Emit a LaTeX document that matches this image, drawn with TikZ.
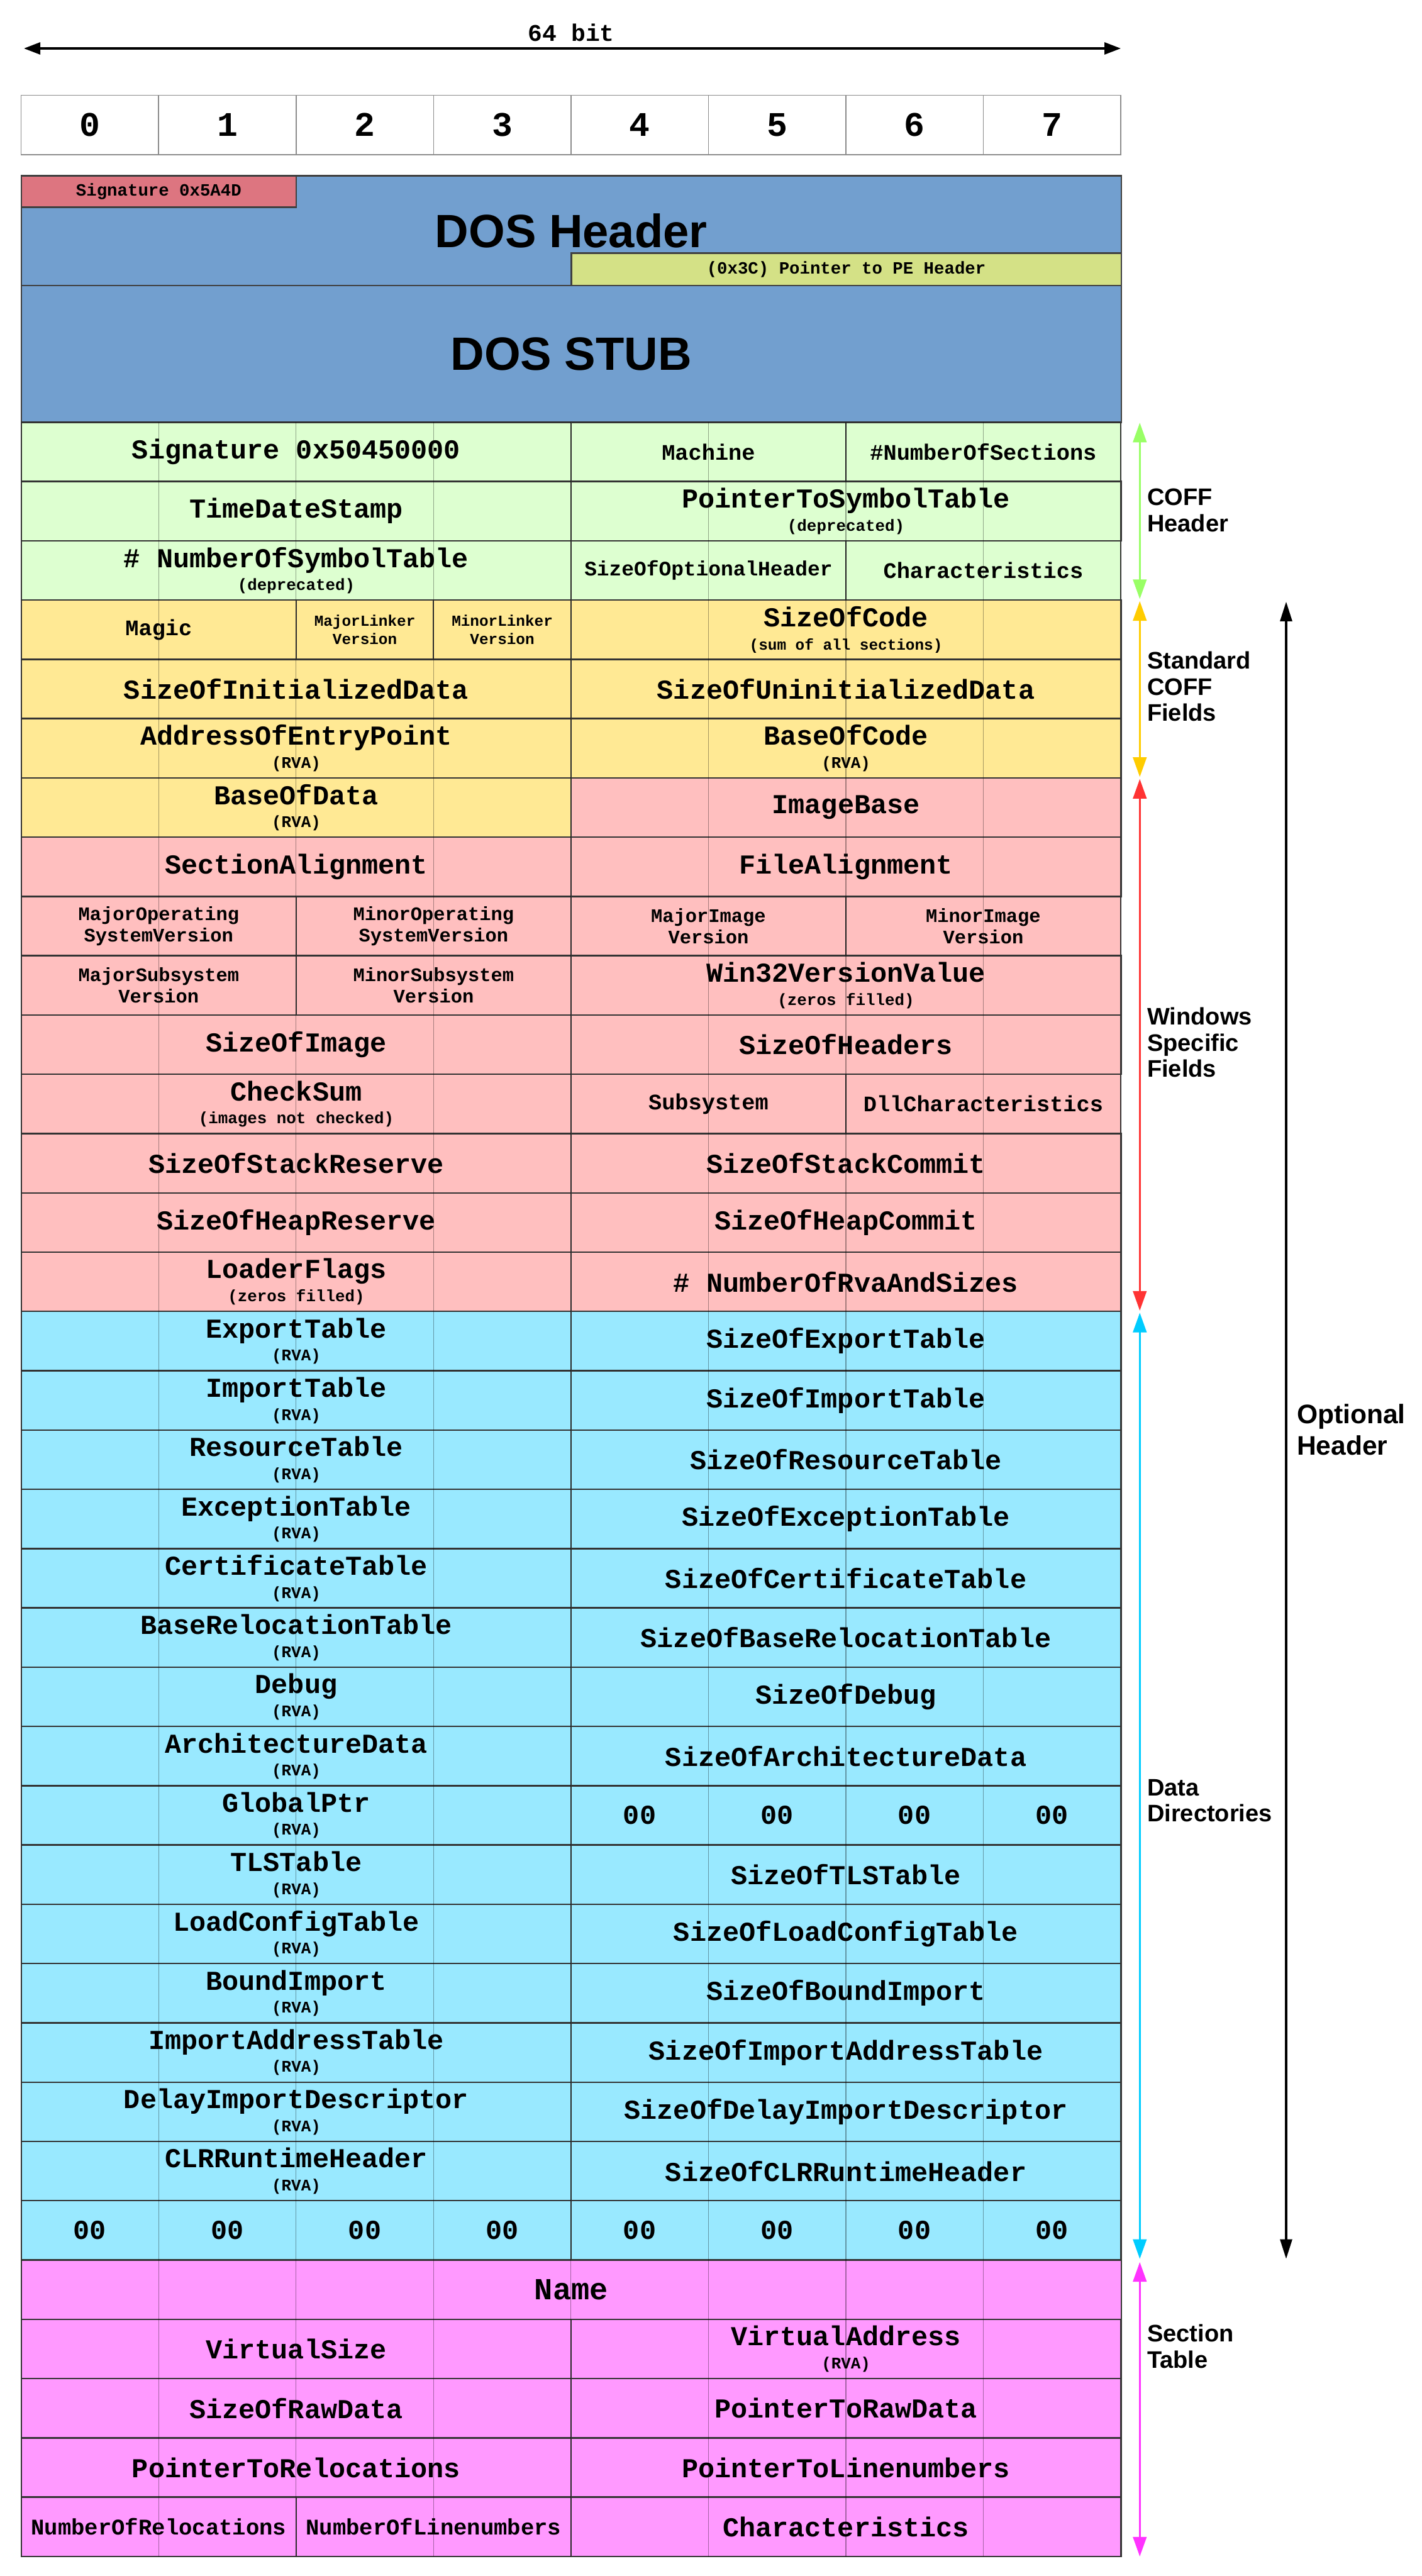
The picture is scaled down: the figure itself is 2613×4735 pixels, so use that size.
\documentclass[tikz,border=0pt]{standalone}
\usepackage{fontspec}
\setmainfont{Liberation Sans}
\setsansfont{Liberation Sans}
\setmonofont{Liberation Mono}
\usepackage{tikz}
\usetikzlibrary{arrows.meta,positioning}
\definecolor{dosblue}{RGB}{114,159,207}
\definecolor{sigred}{RGB}{221,117,128}
\definecolor{pelime}{RGB}{212,225,134}
\definecolor{coffgreen}{RGB}{221,255,208}
\definecolor{stdyellow}{RGB}{255,233,148}
\definecolor{winpink}{RGB}{255,191,191}
\definecolor{ddcyan}{RGB}{153,233,255}
\definecolor{secmagenta}{RGB}{255,153,255}
\definecolor{arrgreen}{RGB}{153,255,102}
\definecolor{arrorange}{RGB}{255,204,0}
\definecolor{arrred}{RGB}{255,51,51}
\definecolor{arrcyan}{RGB}{0,204,255}
\definecolor{arrmagenta}{RGB}{255,51,255}
\newcommand{\fmain}{\ttfamily\bfseries\fontsize{14.3}{12}\selectfont}
\newcommand{\fmid}{\ttfamily\bfseries\fontsize{11.6}{13}\selectfont}
\newcommand{\fsmall}{\ttfamily\bfseries\fontsize{10}{11}\selectfont}
\newcommand{\ftiny}{\ttfamily\bfseries\fontsize{8}{9.3}\selectfont}
\newcommand{\subnote}[1]{{\fontsize{8.5}{9}\selectfont #1}}
\tikzset{
  fieldbox/.style={
    rectangle,
    draw=black!80,
    line width=0.8pt,
    outer sep=0pt,
    inner sep=0pt,
    anchor=north west,
    align=center,
    minimum height=1.0897cm,
    font=\fmain
  },
  coff/.style={fieldbox, fill=coffgreen},
  std/.style={fieldbox, fill=stdyellow},
  win/.style={fieldbox, fill=winpink},
  dd/.style={fieldbox, fill=ddcyan},
  sec/.style={fieldbox, fill=secmagenta},
  zerobyte/.style={inner sep=0pt, font=\fmain},
  dosbox/.style={
    rectangle,
    draw=black!75,
    line width=0.8pt,
    fill=dosblue,
    outer sep=0pt,
    inner sep=0pt,
    font=\sffamily\bfseries\fontsize{24.4}{28}\selectfont
  },
  bitcell/.style={
    rectangle,
    draw=black!45,
    line width=0.5pt,
    outer sep=0pt,
    anchor=north west,
    minimum width=2.526cm,
    minimum height=1.09cm,
    font=\ttfamily\bfseries\fontsize{18}{20}\selectfont
  },
  gridline/.style={black, opacity=0.35, line width=0.45pt},
  rangearrow/.style={
    {Triangle[length=0.36cm,width=0.25cm]}-{Triangle[length=0.36cm,width=0.25cm]},
    line width=0.85pt
  },
  sidelabel/.style={
    anchor=west,
    align=left,
    inner sep=0pt,
    font=\sffamily\bfseries\fontsize{12.5}{13.6}\selectfont
  }
}
% one field of the header table: name, row, first column, last column, style, text
\newcommand{\field}[6]{%
  \node[#5, minimum width={(#4-#3)*2.526cm}] (#1) at ({39+#3*252.6},{776+(#2-1)*108.97}) {#6};}

\begin{document}
\begin{tikzpicture}[x=0.01cm, y=-0.01cm]
\useasboundingbox (0,0) rectangle (2613,4735);

% width scale
\coordinate (wL) at (44,89);
\coordinate (wR) at (2060,89);
\draw[{Triangle[length=0.3cm,width=0.22cm]}-{Triangle[length=0.3cm,width=0.22cm]}, line width=1pt] (wL) -- (wR);
\node[font=\ttfamily\bfseries\fontsize{12.5}{14}\selectfont] (bits) at (1050,60) {64 bit};
\foreach \i in {0,...,7}
  \node[bitcell] (bit\i) at ({39+\i*252.6},175) {\i};

% DOS part
\node[dosbox, anchor=north west, minimum width=20.208cm, minimum height=2.02cm] (doshdr) at (39,323) {DOS Header};
\node[dosbox, anchor=north west, fill=sigred, minimum width=5.052cm, minimum height=0.58cm,
  font=\ttfamily\bfseries\fontsize{9}{10}\selectfont] (sigmz) at (39,323) {Signature 0x5A4D};
\node[dosbox, anchor=south east, fill=pelime, minimum width=10.104cm, minimum height=0.6cm,
  font=\ttfamily\bfseries\fontsize{9}{10}\selectfont] (peptr) at (doshdr.south east) {(0x3C) Pointer to PE Header};
\node[dosbox, anchor=north west, minimum width=20.208cm, minimum height=2.51cm] (dosstub) at (39,525) {DOS STUB};

% COFF header
\field{sigpe}{1}{0}{4}{coff}{Signature 0x50450000}
\field{machine}{1}{4}{6}{coff, font=\fmid}{Machine}
\field{nsect}{1}{6}{8}{coff, font=\fmid}{\#NumberOfSections}
\field{tdstamp}{2}{0}{4}{coff}{TimeDateStamp}
\field{symptr}{2}{4}{8}{coff}{PointerToSymbolTable\\\subnote{(deprecated)}}
\field{nsym}{3}{0}{4}{coff}{\# NumberOfSymbolTable\\\subnote{(deprecated)}}
\field{optsize}{3}{4}{6}{coff, font=\ttfamily\bfseries\fontsize{10.8}{12}\selectfont}{SizeOfOptionalHeader}
\field{coffchar}{3}{6}{8}{coff, font=\fmid}{Characteristics}

% standard COFF fields
\field{magic}{4}{0}{2}{std, font=\fmid}{Magic}
\field{majlink}{4}{2}{3}{std, font=\ftiny}{MajorLinker\\Version}
\field{minlink}{4}{3}{4}{std, font=\ftiny}{MinorLinker\\Version}
\field{codesize}{4}{4}{8}{std}{SizeOfCode\\{\fontsize{8}{9}\selectfont (sum of all sections)}}
\field{initsize}{5}{0}{4}{std}{SizeOfInitializedData}
\field{uninitsize}{5}{4}{8}{std}{SizeOfUninitializedData}
\field{entry}{6}{0}{4}{std}{AddressOfEntryPoint\\\subnote{(RVA)}}
\field{codebase}{6}{4}{8}{std}{BaseOfCode\\\subnote{(RVA)}}
\field{database}{7}{0}{4}{std}{BaseOfData\\\subnote{(RVA)}}

% windows specific fields
\field{imgbase}{7}{4}{8}{win}{ImageBase}
\field{secalign}{8}{0}{4}{win}{SectionAlignment}
\field{filealign}{8}{4}{8}{win}{FileAlignment}
\field{majos}{9}{0}{2}{win, font=\fsmall}{MajorOperating\\SystemVersion}
\field{minos}{9}{2}{4}{win, font=\fsmall}{MinorOperating\\SystemVersion}
\field{majimg}{9}{4}{6}{win, font=\fsmall}{MajorImage\\Version}
\field{minimg}{9}{6}{8}{win, font=\fsmall}{MinorImage\\Version}
\field{majsub}{10}{0}{2}{win, font=\fsmall}{MajorSubsystem\\Version}
\field{minsub}{10}{2}{4}{win, font=\fsmall}{MinorSubsystem\\Version}
\field{win32ver}{10}{4}{8}{win}{Win32VersionValue\\\subnote{(zeros filled)}}
\field{imgsize}{11}{0}{4}{win}{SizeOfImage}
\field{hdrsize}{11}{4}{8}{win}{SizeOfHeaders}
\field{checksum}{12}{0}{4}{win}{CheckSum\\\subnote{(images not checked)}}
\field{subsys}{12}{4}{6}{win, font=\fmid}{Subsystem}
\field{dllchar}{12}{6}{8}{win, font=\fmid}{DllCharacteristics}
\field{stackres}{13}{0}{4}{win}{SizeOfStackReserve}
\field{stackcom}{13}{4}{8}{win}{SizeOfStackCommit}
\field{heapres}{14}{0}{4}{win}{SizeOfHeapReserve}
\field{heapcom}{14}{4}{8}{win}{SizeOfHeapCommit}
\field{ldrflags}{15}{0}{4}{win}{LoaderFlags\\\subnote{(zeros filled)}}
\field{nrva}{15}{4}{8}{win}{\# NumberOfRvaAndSizes}

% data directories
\foreach \n/\s [count=\k from 16] in {ExportTable/SizeOfExportTable,
    ImportTable/SizeOfImportTable, ResourceTable/SizeOfResourceTable,
    ExceptionTable/SizeOfExceptionTable, CertificateTable/SizeOfCertificateTable,
    BaseRelocationTable/SizeOfBaseRelocationTable, Debug/SizeOfDebug,
    ArchitectureData/SizeOfArchitectureData}{
  \field{dl\k}{\k}{0}{4}{dd}{\n\\\subnote{(RVA)}}
  \field{dr\k}{\k}{4}{8}{dd}{\s}
}
\field{globalptr}{24}{0}{4}{dd}{GlobalPtr\\\subnote{(RVA)}}
\field{gpreserved}{24}{4}{8}{dd}{}
\foreach \n/\s [count=\k from 25] in {TLSTable/SizeOfTLSTable,
    LoadConfigTable/SizeOfLoadConfigTable, BoundImport/SizeOfBoundImport,
    ImportAddressTable/SizeOfImportAddressTable,
    DelayImportDescriptor/SizeOfDelayImportDescriptor,
    CLRRuntimeHeader/SizeOfCLRRuntimeHeader}{
  \field{dl\k}{\k}{0}{4}{dd}{\n\\\subnote{(RVA)}}
  \field{dr\k}{\k}{4}{8}{dd}{\s}
}
\field{endleft}{31}{0}{4}{dd}{}
\field{endright}{31}{4}{8}{dd}{}
\foreach \c in {4,...,7}
  \node[zerobyte] (gpz\c) at ({39+(\c+0.5)*252.6},{776+23.5*108.97}) {00};
\foreach \c in {0,...,7}
  \node[zerobyte] (endz\c) at ({39+(\c+0.5)*252.6},{776+30.5*108.97}) {00};

% section table
\field{secname}{32}{0}{8}{sec, font=\ttfamily\bfseries\fontsize{16}{18}\selectfont}{Name}
\field{vsize}{33}{0}{4}{sec}{VirtualSize}
\field{vaddr}{33}{4}{8}{sec}{VirtualAddress\\\subnote{(RVA)}}
\field{rawsize}{34}{0}{4}{sec}{SizeOfRawData}
\field{rawptr}{34}{4}{8}{sec}{PointerToRawData}
\field{relocptr}{35}{0}{4}{sec}{PointerToRelocations}
\field{lineptr}{35}{4}{8}{sec}{PointerToLinenumbers}
\field{nreloc}{36}{0}{2}{sec, font=\ttfamily\bfseries\fontsize{11.7}{13}\selectfont}{NumberOfRelocations}
\field{nlines}{36}{2}{4}{sec, font=\ttfamily\bfseries\fontsize{11.7}{13}\selectfont}{NumberOfLinenumbers}
\field{secchar}{36}{4}{8}{sec}{Characteristics}

% byte grid over the table
\foreach \c in {1,...,7}
  \draw[gridline] ({39+\c*252.6},776) -- ({39+\c*252.6},4699);

% ranges on the right
\coordinate (coffT) at (2095,777);
\coordinate (coffB) at (2095,1101);
\coordinate (stdT) at (2095,1105);
\coordinate (stdB) at (2095,1428);
\coordinate (winT) at (2095,1432);
\coordinate (winB) at (2095,2409);
\coordinate (ddT) at (2095,2413);
\coordinate (ddB) at (2095,4152);
\coordinate (secT) at (2095,4158);
\coordinate (secB) at (2095,4699);
\coordinate (optT) at (2364,1106);
\coordinate (optB) at (2364,4152);
\draw[rangearrow, arrgreen] (coffT) -- (coffB);
\draw[rangearrow, arrorange] (stdT) -- (stdB);
\draw[rangearrow, arrred] (winT) -- (winB);
\draw[rangearrow, arrcyan] (ddT) -- (ddB);
\draw[rangearrow, arrmagenta] (secT) -- (secB);
\draw[{Triangle[length=0.36cm,width=0.22cm]}-{Triangle[length=0.36cm,width=0.22cm]}, line width=1pt] (optT) -- (optB);

\node[sidelabel] (lblcoff) at (2108,938) {COFF\\Header};
\node[sidelabel] (lblstd) at (2108,1262) {Standard\\COFF\\Fields};
\node[sidelabel] (lblwin) at (2108,1916) {Windows\\Specific\\Fields};
\node[sidelabel] (lbldd) at (2108,3310) {Data\\Directories};
\node[sidelabel] (lblsec) at (2108,4313) {Section\\Table};
\node[sidelabel, font=\sffamily\bfseries\fontsize{14}{16.2}\selectfont] (lblopt) at (2383,2628) {Optional\\Header};
\end{tikzpicture}
\end{document}
